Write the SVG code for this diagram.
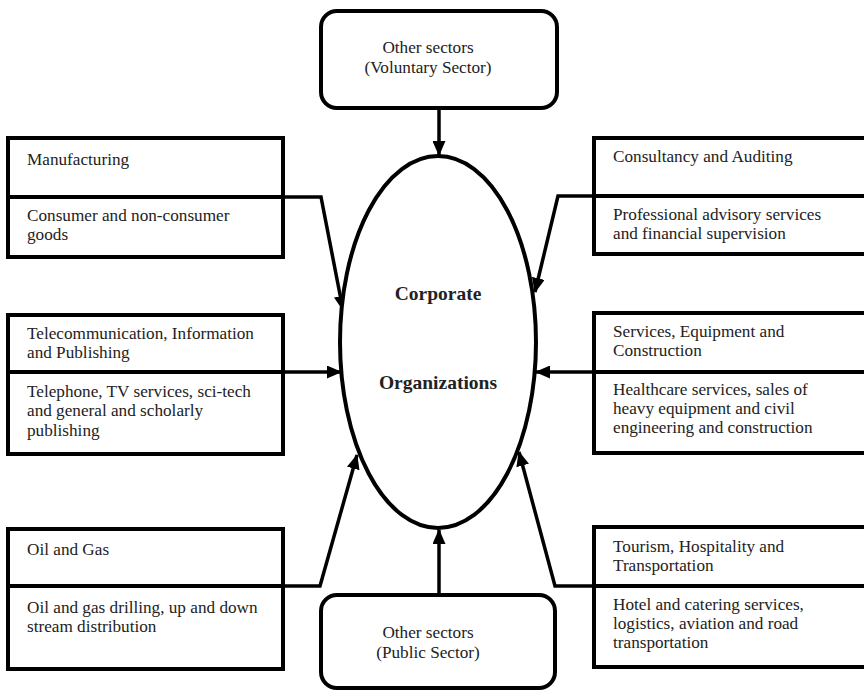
<svg xmlns="http://www.w3.org/2000/svg" width="864" height="691" viewBox="0 0 864 691">
<style>
.box{fill:#fff;stroke:#000;stroke-width:4}
.div{stroke:#000;stroke-width:4}
.rbox{fill:#fff;stroke:#000;stroke-width:4}
.conn{fill:none;stroke:#000;stroke-width:3.5;stroke-linejoin:miter}
.t{font-family:"Liberation Serif","Times New Roman",serif;font-size:17.2px;fill:#222}
.c{text-anchor:middle}
.b{font-family:"Liberation Serif","Times New Roman",serif;font-size:19.5px;font-weight:bold;fill:#222;text-anchor:middle}
</style>
<defs>
<marker id="ah" markerWidth="15" markerHeight="13" refX="14" refY="6.5" orient="auto" markerUnits="userSpaceOnUse">
<path d="M0,0 L15,6.5 L0,13 Z" fill="#000"/>
</marker>
</defs>
<rect width="864" height="691" fill="#fff"/>
<g id="connectors">
<line class="conn" x1="439" y1="108" x2="439" y2="155" marker-end="url(#ah)"/>
<line class="conn" x1="439" y1="594" x2="439" y2="530" marker-end="url(#ah)"/>
<polyline class="conn" points="283,197 321,197 343,310" marker-end="url(#ah)"/>
<polyline class="conn" points="594,196 558,196 535,292" marker-end="url(#ah)"/>
<line class="conn" x1="283" y1="372" x2="341" y2="372" marker-end="url(#ah)"/>
<line class="conn" x1="594" y1="372" x2="536" y2="372" marker-end="url(#ah)"/>
<polyline class="conn" points="283,586 320,586 357,455" marker-end="url(#ah)"/>
<polyline class="conn" points="594,586 555,586 519,452" marker-end="url(#ah)"/>
</g>
<g id="ellipse">
<ellipse cx="438" cy="342" rx="98" ry="186" fill="#fff" stroke="#000" stroke-width="4"/>
<text class="b" x="438" y="300">Corporate</text>
<text class="b" x="438" y="389">Organizations</text>
</g>
<g id="voluntary">
<rect class="rbox" x="321" y="11" width="236" height="97" rx="16"/>
<text class="t c" x="428" y="53">Other sectors</text>
<text class="t c" x="428" y="73">(Voluntary Sector)</text>
</g>
<g id="public">
<rect class="rbox" x="321" y="595" width="234" height="93" rx="16"/>
<text class="t c" x="428" y="638">Other sectors</text>
<text class="t c" x="428" y="658">(Public Sector)</text>
</g>
<g id="manufacturing">
<rect class="box" x="8" y="138" width="275" height="119"/>
<line class="div" x1="8" y1="197" x2="283" y2="197"/>
<text class="t" x="27" y="165">Manufacturing</text>
<text class="t" x="27" y="221">Consumer and non-consumer</text>
<text class="t" x="27" y="240">goods</text>
</g>
<g id="telecom">
<rect class="box" x="8" y="315" width="275" height="139"/>
<line class="div" x1="8" y1="372" x2="283" y2="372"/>
<text class="t" x="27" y="339">Telecommunication, Information</text>
<text class="t" x="27" y="358">and Publishing</text>
<text class="t" x="27" y="397">Telephone, TV services, sci-tech</text>
<text class="t" x="27" y="416">and general and scholarly</text>
<text class="t" x="27" y="436">publishing</text>
</g>
<g id="oilgas">
<rect class="box" x="8" y="529" width="275" height="140"/>
<line class="div" x1="8" y1="586" x2="283" y2="586"/>
<text class="t" x="27" y="555">Oil and Gas</text>
<text class="t" x="27" y="613">Oil and gas drilling, up and down</text>
<text class="t" x="27" y="632">stream distribution</text>
</g>
<g id="consultancy">
<rect class="box" x="594" y="138" width="280" height="116"/>
<line class="div" x1="594" y1="196" x2="874" y2="196"/>
<text class="t" x="613" y="162">Consultancy and Auditing</text>
<text class="t" x="613" y="220">Professional advisory services</text>
<text class="t" x="613" y="239">and financial supervision</text>
</g>
<g id="services">
<rect class="box" x="594" y="313" width="280" height="140"/>
<line class="div" x1="594" y1="372" x2="874" y2="372"/>
<text class="t" x="613" y="337">Services, Equipment and</text>
<text class="t" x="613" y="356">Construction</text>
<text class="t" x="613" y="395">Healthcare services, sales of</text>
<text class="t" x="613" y="414">heavy equipment and civil</text>
<text class="t" x="613" y="433">engineering and construction</text>
</g>
<g id="tourism">
<rect class="box" x="594" y="527" width="280" height="140"/>
<line class="div" x1="594" y1="586" x2="874" y2="586"/>
<text class="t" x="613" y="552">Tourism, Hospitality and</text>
<text class="t" x="613" y="571">Transportation</text>
<text class="t" x="613" y="610">Hotel and catering services,</text>
<text class="t" x="613" y="629">logistics, aviation and road</text>
<text class="t" x="613" y="648">transportation</text>
</g>
</svg>
